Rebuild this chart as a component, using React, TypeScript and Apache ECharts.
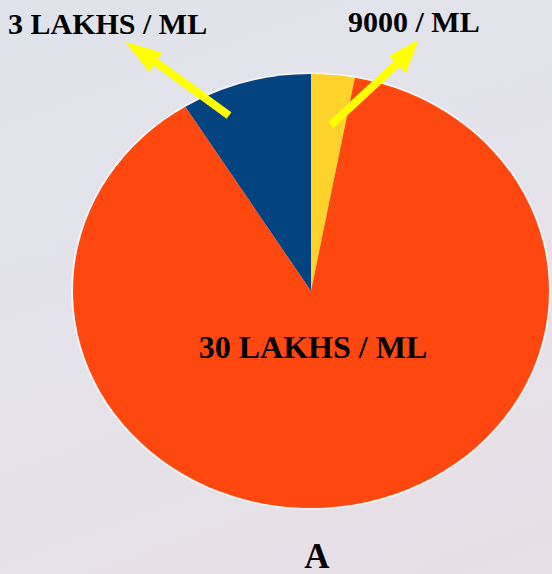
import React, { useEffect, useRef } from "react";
import * as echarts from "echarts";

const sliceNames = ["9000 / ML", "30 LAKHS / ML", "3 LAKHS / ML"];
const sliceValues = [2.95, 88.2, 8.85];
const sliceColors = ["#fdd22b", "#ff4710", "#03437f"];
const topLabels = ["3 LAKHS / ML", "9000 / ML"];
const centerLabel = "30 LAKHS / ML";
const panelLabel = "A";

const W = 552;
const H = 574;
const CX = 311;
const CY = 291;
const RX = 238;
const RY = 217;

export default function App() {
  const pieRef = useRef<HTMLDivElement>(null);
  const topRef = useRef<HTMLDivElement>(null);

  useEffect(() => {
    document.body.style.margin = "0";
    const pie = echarts.init(pieRef.current!, null, { renderer: "svg" });
    pie.setOption({
      animation: false,
      series: [
        {
          type: "pie",
          silent: true,
          center: [CX, CY],
          radius: RX + 2,
          startAngle: 90,
          label: { show: false },
          labelLine: { show: false },
          itemStyle: { color: "#f7f3f2" },
          data: [{ value: 1, name: "rim" }],
          z: 1,
        },
        {
          type: "pie",
          center: [CX, CY],
          radius: RX,
          startAngle: 90,
          clockwise: true,
          label: { show: false },
          labelLine: { show: false },
          emphasis: { disabled: true },
          data: sliceNames.map((n, i) => ({
            name: n,
            value: sliceValues[i],
            itemStyle: { color: sliceColors[i] },
          })),
          z: 2,
        },
      ],
    });

    const top = echarts.init(topRef.current!, null, { renderer: "svg" });
    const font = '"Liberation Serif", "Times New Roman", serif';
    const yellow = "#ffff00";
    top.setOption({
      animation: false,
      graphic: [
        {
          type: "text",
          left: 8,
          top: 8,
          style: { text: topLabels[0], font: `bold 30px ${font}`, fill: "#000" },
        },
        {
          type: "text",
          left: 348,
          top: 6,
          style: { text: topLabels[1], font: `bold 30px ${font}`, fill: "#000" },
        },
        {
          type: "text",
          x: 313,
          y: 347,
          style: {
            text: centerLabel,
            font: `bold 32px ${font}`,
            fill: "#000",
            textAlign: "center",
            textVerticalAlign: "middle",
          },
        },
        {
          type: "text",
          x: 317,
          y: 556,
          style: {
            text: panelLabel,
            font: `bold 35px ${font}`,
            fill: "#000",
            textAlign: "center",
            textVerticalAlign: "middle",
          },
        },
        {
          type: "line",
          shape: { x1: 229, y1: 115.5, x2: 152, y2: 59.5 },
          style: { stroke: yellow, lineWidth: 8 },
        },
        {
          type: "polygon",
          shape: { points: [[125, 41.7], [162, 52.7], [149.3, 72]] },
          style: { fill: yellow },
        },
        {
          type: "line",
          shape: { x1: 331, y1: 125, x2: 400, y2: 61 },
          style: { stroke: yellow, lineWidth: 8 },
        },
        {
          type: "polygon",
          shape: { points: [[418.3, 40], [389, 56], [406, 73.5]] },
          style: { fill: yellow },
        },
      ],
    });

    return () => {
      pie.dispose();
      top.dispose();
    };
  }, []);

  return (
    <div
      style={{
        position: "fixed",
        left: 0,
        top: 0,
        width: W,
        height: H,
        overflow: "hidden",
        background: "linear-gradient(160deg, #e0e3eb 0%, #e4e2ea 50%, #e9dfe6 100%)",
      }}
    >
      <div
        ref={pieRef}
        style={{
          position: "absolute",
          left: 0,
          top: 0,
          width: W,
          height: H,
          transform: `scaleY(${RY / RX})`,
          transformOrigin: `${CX}px ${CY}px`,
        }}
      />
      <div
        ref={topRef}
        style={{ position: "absolute", left: 0, top: 0, width: W, height: H }}
      />
    </div>
  );
}
